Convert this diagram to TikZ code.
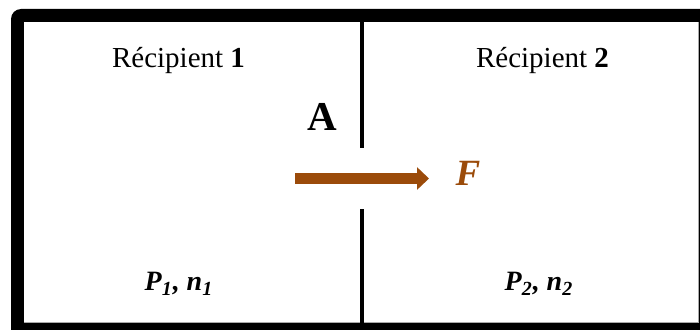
\documentclass[tikz,border=0pt]{standalone}
\usepackage{fontspec}
\setmainfont{Liberation Serif}
\usetikzlibrary{arrows.meta}
\definecolor{forcebrown}{RGB}{155,75,10}
\definecolor{framegray}{RGB}{170,170,170}
\newcommand{\lowsub}[1]{\raisebox{-5pt}{\fontsize{20}{20}\selectfont #1}}
\tikzset{
  wall/.style={line width=4pt, black},
  title/.style={inner sep=0pt, anchor=base, font=\fontsize{29}{34}\selectfont},
  state/.style={inner sep=0pt, anchor=base, font=\fontsize{28}{30}\selectfont\bfseries\itshape},
  force/.style={line width=11pt, forcebrown, -{Triangle[length=12pt,width=22pt]}},
}
\begin{document}
\begin{tikzpicture}[x=1pt,y=-1pt]
\useasboundingbox (0,0) rectangle (700,329);
\clip (0,0) rectangle (700,329);
% outer black frame
\fill[black, rounded corners=10pt] (11,9) rectangle (740,370);
% inner white area
\fill[white] (24,22) rectangle (699,323);
\draw[framegray, line width=1pt] (24,322.5) -- (698.5,322.5) -- (698.5,22);
% separating wall
\coordinate (wtop) at (362,22);
\coordinate (wa) at (362,148);
\coordinate (wb) at (362,209);
\coordinate (wbot) at (362,323);
\draw[wall] (wtop) -- (wa);
\draw[wall] (wb) -- (wbot);
% labels
\node[title] (r1) at (178.5,67) {Récipient \textbf{1}};
\node[title] (r2) at (542.5,67) {Récipient \textbf{2}};
\node[inner sep=0pt, anchor=base, font=\fontsize{41}{45}\selectfont\bfseries] (A) at (322.5,130) {A};
% force arrow
\coordinate (fstart) at (295,178.5);
\coordinate (fend) at (429,178.5);
\draw[force] (fstart) -- (fend);
\node[inner sep=0pt, anchor=base, text=forcebrown, font=\fontsize{37}{40}\selectfont\bfseries\itshape] (F) at (468,185) {F};
% states
\node[state] (s1) at (178.5,290) {P\lowsub{1}\kern1pt, n\lowsub{1}};
\node[state] (s2) at (538.5,290) {P\lowsub{2}\kern1pt, n\lowsub{2}};
\end{tikzpicture}
\end{document}
